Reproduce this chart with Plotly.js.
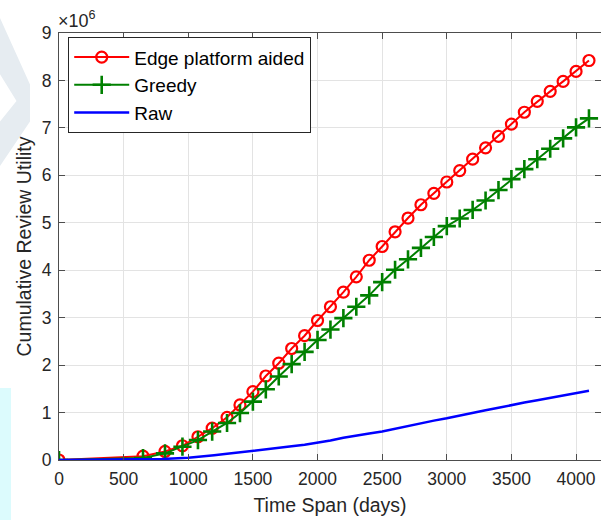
<!DOCTYPE html>
<html>
<head>
<meta charset="utf-8">
<script src="https://cdn.plot.ly/plotly-3.0.1.min.js"></script>
<style>
  html, body { margin: 0; padding: 0; background: #ffffff; }
  #wrap { position: relative; width: 601px; height: 520px; overflow: hidden; }
  .wm1 { position: absolute; left: 0; top: 18px; width: 30px; height: 148px; background: #e6ecf1;
         clip-path: polygon(0 0, 100% 45%, 100% 70%, 0 100%, 0 70%, 55% 56%, 0 38%); }
  .wm2 { position: absolute; left: 0; top: 388px; width: 11px; height: 132px; background: #dcfbfd; }
  #chart { position: absolute; left: 0; top: 0; width: 601px; height: 520px; }
</style>
</head>
<body>
<div id="wrap">
  <div class="wm1"></div>
  <div class="wm2"></div>
  <div id="chart"></div>
</div>
<script>
// Days at which the methods were sampled
const edgeDays = [0, 650, 820, 955, 1075, 1185, 1300, 1400, 1500, 1600, 1700, 1800, 1900, 2000, 2100, 2200, 2300, 2400, 2500, 2600, 2700, 2800, 2900, 3000, 3100, 3200, 3300, 3400, 3500, 3600, 3700, 3800, 3900, 4000, 4100];
const edgeUtility = [0, 0.08, 0.18, 0.30, 0.49, 0.67, 0.90, 1.16, 1.44, 1.77, 2.04, 2.35, 2.62, 2.94, 3.23, 3.54, 3.86, 4.21, 4.50, 4.81, 5.10, 5.38, 5.62, 5.86, 6.10, 6.34, 6.58, 6.82, 7.08, 7.33, 7.56, 7.77, 7.98, 8.19, 8.42];

const greedyDays = [0, 650, 820, 955, 1075, 1185, 1300, 1400, 1500, 1600, 1700, 1800, 1900, 2000, 2100, 2200, 2300, 2400, 2500, 2600, 2700, 2800, 2900, 3000, 3100, 3200, 3300, 3400, 3500, 3600, 3700, 3800, 3900, 4000, 4100];
const greedyUtility = [0, 0.04, 0.14, 0.28, 0.42, 0.60, 0.78, 0.99, 1.23, 1.49, 1.76, 2.02, 2.28, 2.53, 2.75, 2.99, 3.23, 3.47, 3.75, 4.01, 4.23, 4.47, 4.70, 4.93, 5.09, 5.27, 5.47, 5.69, 5.92, 6.13, 6.34, 6.56, 6.78, 7.01, 7.20];

const rawDays = [0, 500, 800, 1000, 1100, 1200, 1300, 1500, 1700, 1800, 1900, 2000, 2100, 2200, 2300, 2400, 2500, 2600, 2700, 2800, 2900, 3000, 3100, 3200, 3300, 3400, 3500, 3600, 3700, 3800, 3900, 4000, 4100];
const rawUtility = [0, 0.01, 0.02, 0.05, 0.07, 0.10, 0.13, 0.20, 0.26, 0.29, 0.32, 0.36, 0.41, 0.47, 0.52, 0.56, 0.60, 0.66, 0.71, 0.77, 0.83, 0.88, 0.94, 0.99, 1.05, 1.10, 1.16, 1.21, 1.26, 1.31, 1.36, 1.41, 1.46];

const xTicks = [0, 500, 1000, 1500, 2000, 2500, 3000, 3500, 4000];
const yTicks = [0, 1, 2, 3, 4, 5, 6, 7, 8, 9];

const names = ['Edge platform aided', 'Greedy', 'Raw'];

const textColor = '#262626';
const fontFam = 'Liberation Sans, Arial, Helvetica, sans-serif';

const traces = [
  {
    x: edgeDays, y: edgeUtility, name: names[0], type: 'scatter', mode: 'lines+markers',
    line: {color: '#ff0000', width: 2},
    marker: {symbol: 'circle-open', size: 11, color: '#ff0000', line: {width: 2.2, color: '#ff0000'}}
  },
  {
    x: greedyDays, y: greedyUtility, name: names[1], type: 'scatter', mode: 'lines+markers',
    line: {color: '#008000', width: 2},
    marker: {symbol: 'cross-thin-open', size: 13, color: '#008000', line: {width: 2.6, color: '#008000'}}
  },
  {
    x: rawDays, y: rawUtility, name: names[2], type: 'scatter', mode: 'lines',
    line: {color: '#0000ff', width: 2.5}
  }
];

const axisCommon = {
  showline: true, linecolor: '#4d4d4d', linewidth: 1,
  mirror: 'ticks', ticks: 'inside', ticklen: 6, tickcolor: '#4d4d4d', tickwidth: 1,
  showgrid: true, gridcolor: '#e3e3e3', gridwidth: 1,
  zeroline: false,
  tickfont: {family: fontFam, size: 17.5, color: textColor}
};

const layout = {
  width: 601, height: 520,
  margin: {l: 59, r: 0, t: 33, b: 60},
  paper_bgcolor: 'rgba(0,0,0,0)',
  plot_bgcolor: '#ffffff',
  font: {family: fontFam, size: 17.5, color: textColor},
  xaxis: Object.assign({}, axisCommon, {
    range: [0, 4193], tickvals: xTicks, ticktext: xTicks.map(String),
    ticklabelstandoff: 3,
    title: {text: 'Time Span (days)', font: {family: fontFam, size: 19.5, color: textColor}, standoff: 10}
  }),
  yaxis: Object.assign({}, axisCommon, {
    range: [0, 9], tickvals: yTicks, ticktext: yTicks.map(String),
    ticklabelstandoff: 3,
    title: {text: 'Cumulative Review Utility', font: {family: fontFam, size: 19.5, color: textColor}, standoff: 4}
  }),
  showlegend: true,
  legend: {
    x: 0.017, y: 0.99, xanchor: 'left', yanchor: 'top',
    bgcolor: '#ffffff', bordercolor: '#262626', borderwidth: 1,
    font: {family: fontFam, size: 19, color: '#000000'},
    itemwidth: 55, tracegroupgap: 0
  },
  annotations: [{
    xref: 'paper', yref: 'paper', x: 0, y: 1, xanchor: 'left', yanchor: 'bottom',
    text: '\u00d710<sup>6</sup>', showarrow: false, yshift: 0, xshift: -3,
    font: {family: fontFam, size: 18, color: textColor}
  }]
};

Plotly.newPlot('chart', traces, layout, {displayModeBar: false, staticPlot: true});
</script>
</body>
</html>
